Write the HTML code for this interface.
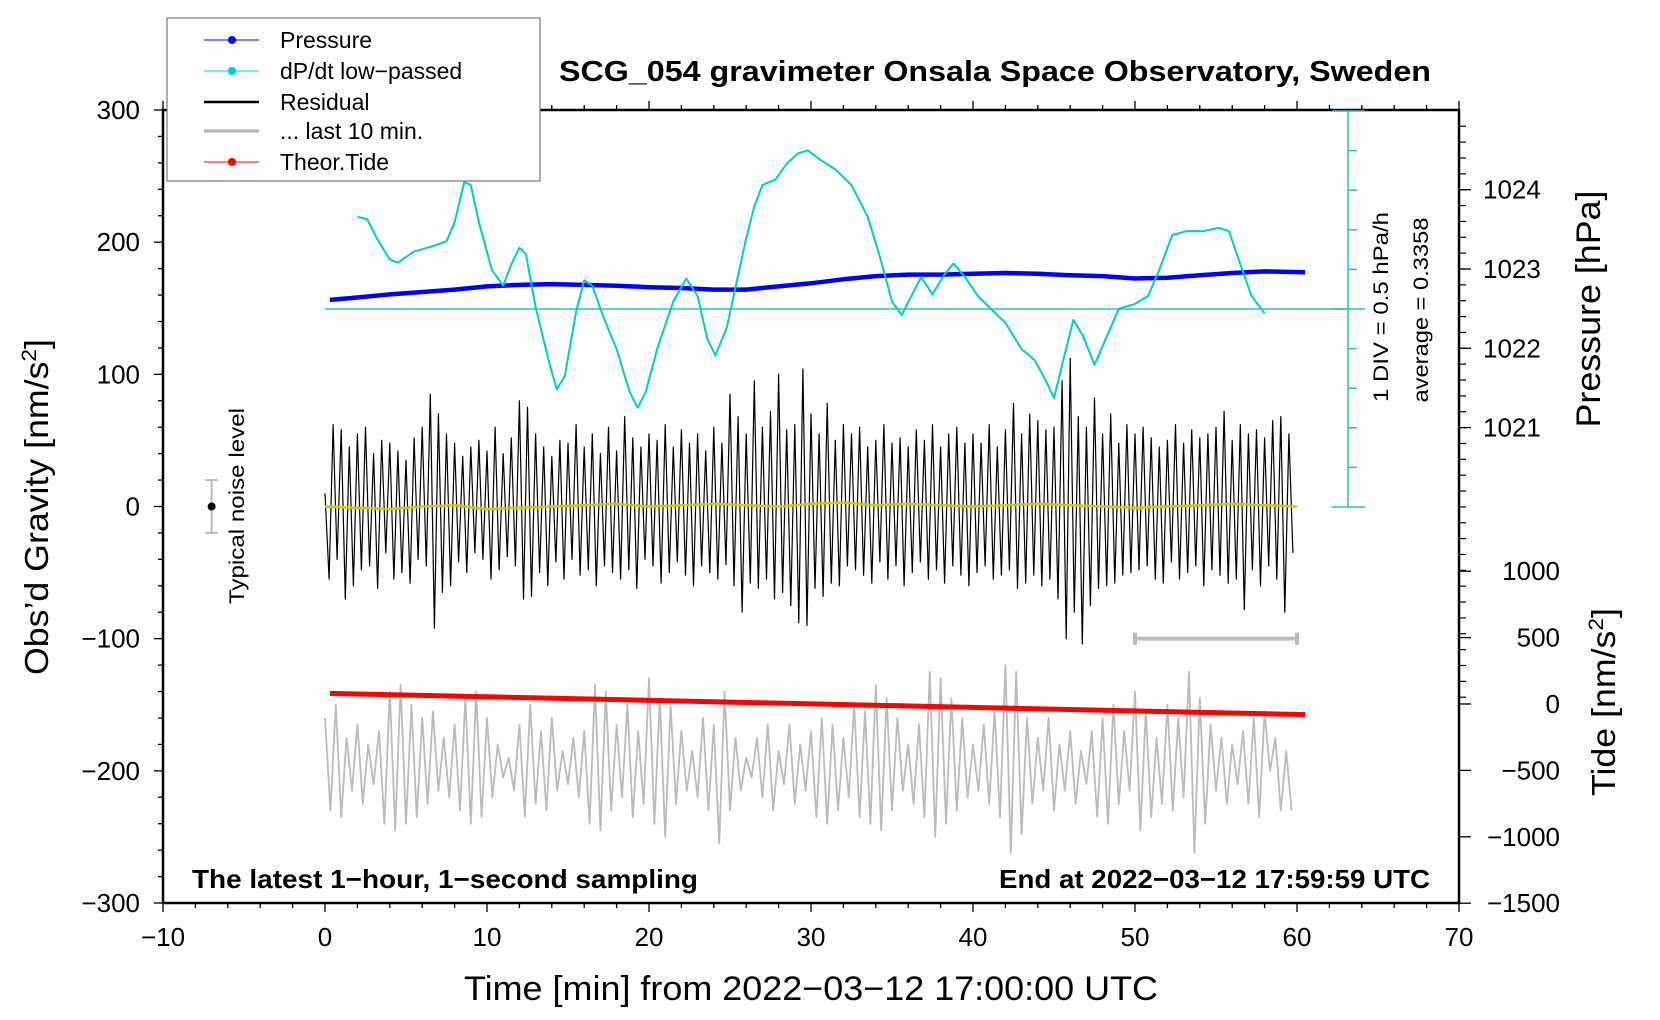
<!DOCTYPE html>
<html><head><meta charset="utf-8"><style>
html,body{margin:0;padding:0;background:#fff;}
svg{display:block;font-family:"Liberation Sans",sans-serif;}
</style></head><body>
<svg id="chart" width="1660" height="1020" viewBox="0 0 1660 1020" xmlns="http://www.w3.org/2000/svg">
<g id="axes"></g>
<g id="series"></g>
<text x="995" y="81" text-anchor="middle" font-weight="bold" font-size="29" textLength="872" lengthAdjust="spacingAndGlyphs">SCG_054 gravimeter Onsala Space Observatory, Sweden</text>
<text transform="translate(48,507) rotate(-90)" text-anchor="middle" font-size="33" textLength="336" lengthAdjust="spacingAndGlyphs">Obs’d Gravity [nm/s<tspan font-size="21" dy="-12">2</tspan><tspan dy="12">]</tspan></text>
<text x="811" y="1000" text-anchor="middle" font-size="34" textLength="694" lengthAdjust="spacingAndGlyphs">Time [min] from 2022−03−12 17:00:00 UTC</text>
<text transform="translate(1600,309) rotate(-90)" text-anchor="middle" font-size="34" textLength="237" lengthAdjust="spacingAndGlyphs">Pressure [hPa]</text>
<text transform="translate(1615,702) rotate(-90)" text-anchor="middle" font-size="33" textLength="188" lengthAdjust="spacingAndGlyphs">Tide [nm/s<tspan font-size="21" dy="-12">2</tspan><tspan dy="12">]</tspan></text>
<text transform="translate(1388,307) rotate(-90)" text-anchor="middle" font-size="21" textLength="190" lengthAdjust="spacingAndGlyphs">1 DIV = 0.5 hPa/h</text>
<text transform="translate(1428,310) rotate(-90)" text-anchor="middle" font-size="21" textLength="185" lengthAdjust="spacingAndGlyphs">average = 0.3358</text>
<text transform="translate(244,506) rotate(-90)" text-anchor="middle" font-size="21" textLength="196" lengthAdjust="spacingAndGlyphs">Typical noise level</text>
<text x="192" y="888" font-weight="bold" font-size="26" textLength="506" lengthAdjust="spacingAndGlyphs">The latest 1−hour, 1−second sampling</text>
<text x="1430" y="888" text-anchor="end" font-weight="bold" font-size="26" textLength="431" lengthAdjust="spacingAndGlyphs">End at 2022−03−12 17:59:59 UTC</text>
<g>
<rect x="167" y="18" width="373" height="163" fill="#fff" stroke="#777" stroke-width="1.2"/>
<g><line x1="204" y1="40" x2="259" y2="40" stroke="#00f" stroke-width="1"/><circle cx="232" cy="40" r="4" fill="#00f"/><text x="280" y="48" font-size="23">Pressure</text></g>
<g><line x1="204" y1="71" x2="259" y2="71" stroke="#0cc" stroke-width="1"/><circle cx="232" cy="71" r="4" fill="#0cc"/><text x="280" y="79" font-size="23">dP/dt low−passed</text></g>
<g><line x1="204" y1="102" x2="259" y2="102" stroke="#000" stroke-width="2.5"/><text x="280" y="110" font-size="23">Residual</text></g>
<g><line x1="204" y1="131" x2="259" y2="131" stroke="#bbb" stroke-width="3.5"/><text x="280" y="139" font-size="23">... last 10 min.</text></g>
<g><line x1="204" y1="162" x2="259" y2="162" stroke="#f00" stroke-width="1"/><circle cx="232" cy="162" r="4" fill="#f00"/><text x="280" y="170" font-size="23">Theor.Tide</text></g>
</g>
</svg>
<script>
// ---- data ----
const pressureTimes = [0.3,2,4,6,8,10,12,14,16,18,20,22,24,26,28,30,32,34,36,38,40,42,44,46,48,50,52,54,56,58,60.5];
const pressureValues = [1022.61,1022.64,1022.68,1022.71,1022.74,1022.78,1022.80,1022.81,1022.80,1022.79,1022.77,1022.76,1022.74,1022.74,1022.78,1022.82,1022.87,1022.91,1022.93,1022.93,1022.94,1022.95,1022.94,1022.92,1022.91,1022.88,1022.89,1022.92,1022.95,1022.97,1022.96];
const dpdtTimes = [2.0,2.6,3.2,4.0,4.5,5.5,6.5,7.5,8.0,8.6,9.0,9.5,10.3,11.0,11.5,12.0,12.4,13.0,13.8,14.3,14.8,15.5,16.0,16.5,17.2,18.0,18.8,19.3,19.8,20.5,21.5,22.3,23.0,23.6,24.1,24.8,25.5,26.0,26.5,27.0,27.8,28.5,29.2,29.8,30.5,31.5,32.5,33.5,34.3,35.0,35.6,36.2,36.8,37.5,38.2,38.8,39.5,40.3,41.0,42.0,43.0,43.8,44.5,45.0,45.5,46.2,46.8,47.5,48.2,49.0,50.0,50.8,51.5,52.3,53.2,54.2,55.2,55.8,56.5,57.2,58.0];
const dpdtValues = [1.50,1.47,1.23,0.96,0.92,1.06,1.12,1.19,1.43,1.94,1.90,1.43,0.83,0.63,0.90,1.11,1.03,0.36,-0.31,-0.68,-0.51,0.30,0.70,0.63,0.23,-0.17,-0.71,-0.91,-0.71,-0.17,0.43,0.72,0.50,-0.04,-0.25,0.10,0.76,1.23,1.63,1.90,1.97,2.17,2.30,2.34,2.23,2.10,1.90,1.50,0.96,0.43,0.26,0.50,0.74,0.52,0.76,0.91,0.74,0.50,0.36,0.16,-0.17,-0.31,-0.57,-0.79,-0.37,0.20,-0.01,-0.37,-0.04,0.34,0.40,0.50,0.83,1.27,1.32,1.32,1.36,1.32,0.90,0.50,0.28];
const dpdtAverage = 0.3358;
const dpdtDiv = 0.5;
const residualStep = 0.25;
const residualValues = [10,-55,62,-40,58,-70,45,-60,55,-48,60,-45,40,-62,50,-35,48,-55,42,-50,35,-58,52,-40,60,-45,85,-92,70,-65,55,-60,48,-42,38,-50,45,-35,50,-40,42,-55,60,-48,40,-38,52,-45,80,-70,75,-68,55,-50,45,-60,38,-42,50,-55,48,-40,62,-52,45,-48,55,-60,40,-45,60,-50,42,-55,68,-48,52,-62,45,-40,55,-45,50,-58,62,-50,45,-42,58,-52,48,-60,55,-45,42,-50,60,-55,48,-44,85,-60,68,-80,55,-58,95,-62,60,-55,72,-70,100,-65,58,-75,62,-88,104,-90,70,-62,55,-68,78,-58,50,-60,62,-45,55,-48,60,-52,45,-58,50,-42,62,-55,48,-45,52,-60,45,-50,58,-42,50,-55,62,-48,45,-58,55,-45,60,-52,48,-60,55,-50,48,-45,62,-55,45,-52,58,-48,78,-62,55,-58,70,-52,65,-60,58,-55,60,-70,95,-100,112,-80,68,-104,60,-75,82,-62,55,-60,70,-58,48,-52,62,-50,55,-48,60,-45,52,-55,45,-58,50,-42,62,-55,48,-50,58,-45,52,-60,55,-48,60,-52,72,-58,50,-55,62,-78,55,-48,58,-60,52,-45,65,-55,68,-80,55,-35];
const smoothStep = 2;
const smoothValues = [0,-1,-2,0,1,-2,-1,0,1,2,0,1,2,1,0,2,3,1,2,1,0,1,2,1,0,-1,0,1,2,1,0];
const lastTenStep = 1/3;
const lastTenValues = [-160,-230,-150,-235,-175,-215,-165,-225,-180,-210,-170,-240,-140,-245,-135,-240,-150,-235,-160,-225,-155,-215,-175,-220,-165,-230,-145,-240,-140,-235,-160,-220,-180,-205,-190,-215,-165,-235,-150,-225,-170,-230,-160,-215,-185,-210,-175,-220,-170,-240,-135,-245,-140,-230,-165,-220,-150,-235,-170,-225,-130,-240,-145,-250,-150,-225,-170,-215,-185,-220,-160,-230,-165,-255,-140,-230,-175,-215,-190,-205,-175,-220,-165,-230,-185,-210,-165,-225,-180,-215,-170,-235,-160,-240,-165,-230,-175,-220,-150,-235,-155,-240,-135,-245,-145,-230,-160,-215,-180,-225,-165,-235,-125,-250,-130,-240,-145,-230,-160,-220,-180,-215,-165,-225,-155,-235,-120,-262,-125,-248,-160,-225,-175,-215,-160,-230,-180,-215,-170,-225,-185,-210,-170,-235,-160,-240,-150,-225,-170,-215,-140,-245,-155,-235,-175,-225,-150,-230,-160,-220,-125,-262,-145,-240,-165,-215,-175,-225,-180,-210,-170,-225,-160,-235,-155,-200,-175,-230,-185,-230];
const tideTimes = [0.3,60.5];
const tideValues = [80,-80];
const xTicks = [-10,0,10,20,30,40,50,60,70];
const yTicks = [300,200,100,0,-100,-200,-300];
const pressureTicks = [1024,1023,1022,1021];
const tideTicks = [1000,500,0,-500,-1000,-1500];
const noiseLevel = 20;
const noiseTime = -7;
const windowStart = 50, windowEnd = 60, windowLevel = -100;

// ---- scales ----
const X = t => 325 + t*16.2;
const Y = g => 506.5 - g*1.3217;
const P = p => 269 - (p-1023)*79.3;
const D = v => 309 - (v-dpdtAverage)*79.2;
const T = v => 704 - v*0.1328;
const NS = 'http://www.w3.org/2000/svg';
function mk(parent, tag, attrs){ const e=document.createElementNS(NS,tag); for(const k in attrs) e.setAttribute(k,attrs[k]); parent.appendChild(e); return e; }
const axes = document.getElementById('axes');
const series = document.getElementById('series');

const frame = mk(axes,'rect',{x:163,y:110,width:1296,height:793,fill:'none',stroke:'#000','stroke-width':2.5});



for(let t=-10;t<=70;t+=2){
  const major = t%10===0, len = major?9:5;
  mk(axes,'line',{x1:X(t),y1:903,x2:X(t),y2:903+len,stroke:'#000','stroke-width':1.3});
  mk(axes,'line',{x1:X(t),y1:110,x2:X(t),y2:110-len,stroke:'#000','stroke-width':1.3});
}
xTicks.forEach(t=>{
  const e = mk(axes,'text',{x:X(t),y:946,'text-anchor':'middle','font-size':26});
  e.textContent = t<0 ? '−'+(-t) : String(t);
  
  
});
for(let g=-300;g<=300;g+=20){
  const len = g%100===0?9:5;
  mk(axes,'line',{x1:163,y1:Y(g),x2:163-len,y2:Y(g),stroke:'#000','stroke-width':1.3});
}
yTicks.forEach(g=>{
  const e = mk(axes,'text',{x:140,y:Y(g)+9,'text-anchor':'end','font-size':26});
  e.textContent = g<0 ? '−'+(-g) : String(g);
  
  
});
for(let p=1024.8;p>=1017.4;p-=0.2){
  const y=P(p); if(y<111||y>902) continue;
  mk(axes,'line',{x1:1459,y1:y,x2:1466,y2:y,stroke:'#000','stroke-width':1.2});
}
pressureTicks.forEach(p=>{
  mk(axes,'line',{x1:1459,y1:P(p),x2:1471,y2:P(p),stroke:'#000','stroke-width':1.3});
  const e = mk(axes,'text',{x:1483,y:P(p)+9,'font-size':26});
  e.textContent = String(p);
  
  
});
tideTicks.forEach(v=>{
  mk(axes,'line',{x1:1459,y1:T(v),x2:1471,y2:T(v),stroke:'#000','stroke-width':1.3});
  const e = mk(axes,'text',{x:1560,y:T(v)+9,'text-anchor':'end','font-size':26});
  e.textContent = v<0 ? '−'+(-v) : String(v);
  
  
});

// dP/dt scale axis (10 divisions)
const sc = mk(series,'g',{stroke:'#3bb','stroke-width':1.5});


mk(sc,'line',{x1:1348,y1:D(dpdtAverage+5*dpdtDiv),x2:1348,y2:D(dpdtAverage-5*dpdtDiv)});
for(let k=-5;k<=5;k++){
  const v = dpdtAverage + k*dpdtDiv;
  const end = (k===5||k===-5||k===0);
  mk(sc,'line',{x1:end?1332:1348,y1:D(v),x2:end?1365:1357,y2:D(v)});
}
const avgLine = mk(series,'line',{x1:X(0),y1:D(dpdtAverage),x2:1348,y2:D(dpdtAverage),stroke:'#3bb','stroke-width':1.5});



function poly(pts, attrs, name){
  const e = mk(series,'polyline',Object.assign({points:pts.map(p=>p[0].toFixed(1)+','+p[1].toFixed(1)).join(' '),fill:'none','stroke-linejoin':'round'},attrs));
  
  
  return e;
}
poly(lastTenValues.map((v,i)=>[X(i*lastTenStep),Y(v)]),{stroke:'#bbb','stroke-width':1.8},'last-10-min-line');
poly(tideTimes.map((t,i)=>[X(t),T(tideValues[i])]),{stroke:'#f00','stroke-width':5},'theor-tide-line');
poly(residualValues.map((v,i)=>[X(i*residualStep),Y(v)]),{stroke:'#000','stroke-width':1.2},'residual-line');
poly(smoothValues.map((v,i)=>[X(i*smoothStep),Y(v)]),{stroke:'#cc0','stroke-width':2.5},'residual-smoothed-line');
poly(pressureTimes.map((t,i)=>[X(t),P(pressureValues[i])]),{stroke:'#00f','stroke-width':4.5},'pressure-line');
poly(dpdtTimes.map((t,i)=>[X(t),D(dpdtValues[i])]),{stroke:'#0cc','stroke-width':2},'dpdt-line');

const nb = mk(series,'g',{});


mk(nb,'line',{x1:X(noiseTime),y1:Y(noiseLevel),x2:X(noiseTime),y2:Y(-noiseLevel),stroke:'#bbb','stroke-width':2});
mk(nb,'line',{x1:X(noiseTime)-6,y1:Y(noiseLevel),x2:X(noiseTime)+6,y2:Y(noiseLevel),stroke:'#bbb','stroke-width':2});
mk(nb,'line',{x1:X(noiseTime)-6,y1:Y(-noiseLevel),x2:X(noiseTime)+6,y2:Y(-noiseLevel),stroke:'#bbb','stroke-width':2});
mk(nb,'circle',{cx:X(noiseTime),cy:Y(0),r:4,fill:'#000'});
const wb = mk(series,'g',{stroke:'#bbb','stroke-width':4});


mk(wb,'line',{x1:X(windowStart),y1:Y(windowLevel),x2:X(windowEnd),y2:Y(windowLevel)});
mk(wb,'line',{x1:X(windowStart),y1:Y(windowLevel)-6,x2:X(windowStart),y2:Y(windowLevel)+6});
mk(wb,'line',{x1:X(windowEnd),y1:Y(windowLevel)-6,x2:X(windowEnd),y2:Y(windowLevel)+6});
</script>
</body></html>
